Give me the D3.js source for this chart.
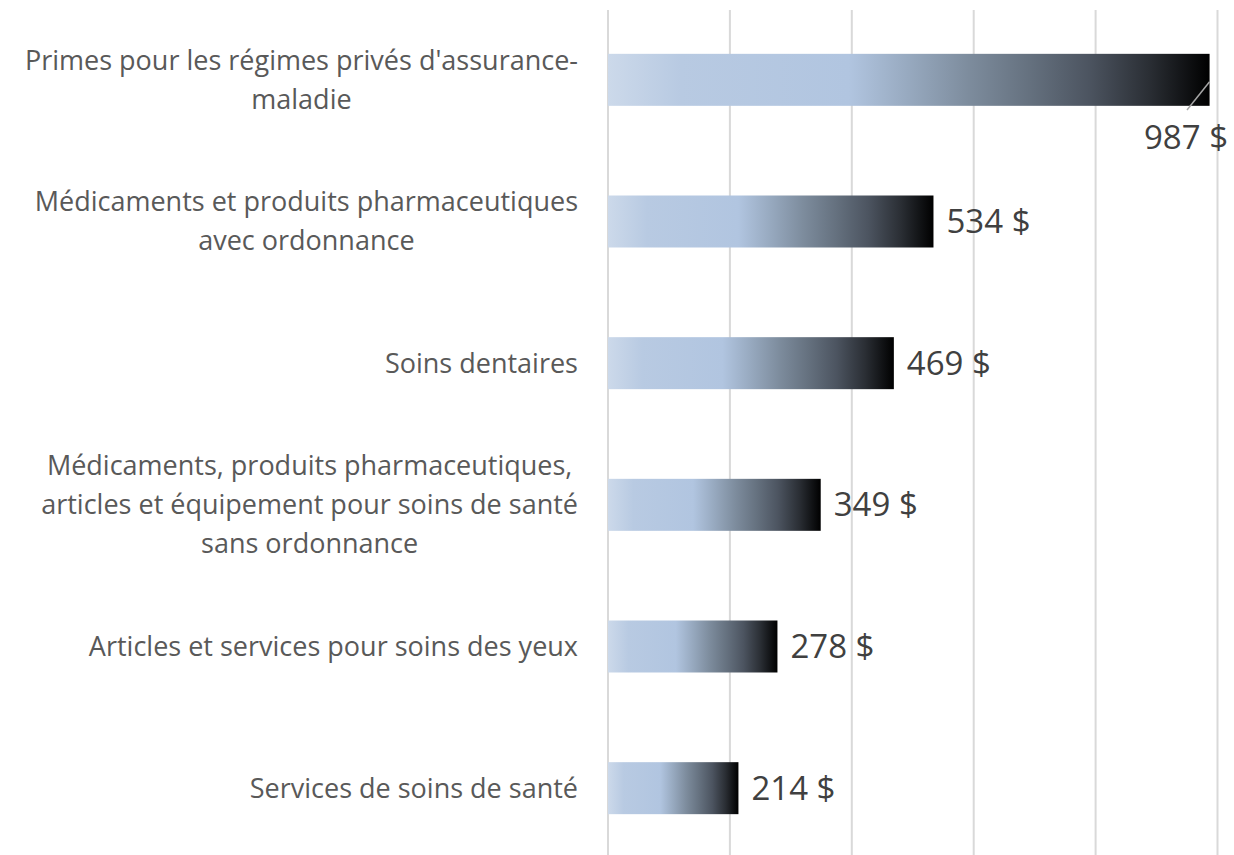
<!DOCTYPE html>
<html><head><meta charset="utf-8">
<script src="https://cdn.jsdelivr.net/npm/d3@7/dist/d3.min.js"></script>
<style>body{margin:0;background:#fff}svg{display:block}</style>
</head><body>
<svg id="c" width="1234" height="855"></svg>
<script>
const categories = [
  ["Primes pour les régimes privés d'assurance-", "maladie"],
  ["Médicaments et produits pharmaceutiques", "avec ordonnance"],
  ["Soins dentaires"],
  ["Médicaments, produits pharmaceutiques,", "articles et équipement pour soins de santé", "sans ordonnance"],
  ["Articles et services pour soins des yeux"],
  ["Services de soins de santé"]
];
const values = [987, 534, 469, 349, 278, 214];
const valueLabels = ["987 $", "534 $", "469 $", "349 $", "278 $", "214 $"];
const gridTicks = [0, 200, 400, 600, 800, 1000];

const svg = d3.select("#c");
const x = d3.scaleLinear().domain([0, 1000]).range([608, 1217.5]);
const y = d3.scaleBand().domain(d3.range(categories.length)).range([9, 859])
  .paddingInner(0.633).paddingOuter(0.3165);

const defs = svg.append("defs");
const grad = defs.append("linearGradient").attr("id", "g").attr("x1", "0").attr("x2", "1").attr("y1", "0").attr("y2", "0");
[[0, "#ccd9ea"], [0.12, "#b8cae2"], [0.4, "#b1c5e0"], [0.5, "#97a9bf"], [0.6, "#7d8c9d"], [0.7, "#65717f"], [0.8, "#4c5460"], [0.9, "#2a2e34"], [1, "#000000"]]
  .forEach(([o, c]) => grad.append("stop").attr("offset", o).attr("stop-color", c));

// gridlines
svg.append("g").selectAll("line").data(gridTicks).join("line")
  .attr("x1", d => x(d)).attr("x2", d => x(d))
  .attr("y1", 10).attr("y2", 855)
  .attr("stroke", "#d9d9d9").attr("stroke-width", 2);

// bars
svg.append("g").selectAll("rect").data(values).join("rect")
  .attr("x", x(0)).attr("y", (d, i) => y(i))
  .attr("width", d => x(d) - x(0)).attr("height", y.bandwidth())
  .attr("fill", "url(#g)");

const font = "'Open Sans', 'Liberation Sans', sans-serif";

// category labels
const lineH = 39;
const catG = svg.append("g").attr("font-family", font).attr("font-size", 27).attr("fill", "#595959");
categories.forEach((lines, i) => {
  const cy = y(i) + y.bandwidth() / 2;
  const t = catG.append("text").attr("text-anchor", "middle");
  lines.forEach((l, j) => {
    t.append("tspan").attr("x", 0).attr("y", cy + (j - (lines.length - 1) / 2) * lineH).attr("dy", "0.35em").text(l);
  });
  const w = t.node().getBBox().width;
  t.attr("transform", `translate(${578 - w / 2},0)`);
});

// value labels
const valG = svg.append("g").attr("font-family", font).attr("font-size", 33).attr("fill", "#404040");
values.forEach((v, i) => {
  const cy = y(i) + y.bandwidth() / 2;
  if (i === 0) {
    valG.append("text").attr("x", 1186).attr("y", 137).attr("dy", "0.35em").attr("text-anchor", "middle").text(valueLabels[i]);
    svg.append("line").attr("x1", 1187).attr("y1", 110).attr("x2", x(v)).attr("y2", cy + 2)
      .attr("stroke", "#a6a6a6").attr("stroke-width", 1.5);
  } else {
    valG.append("text").attr("x", x(v) + 13).attr("y", cy).attr("dy", "0.35em").text(valueLabels[i]);
  }
});
</script>
</body></html>
